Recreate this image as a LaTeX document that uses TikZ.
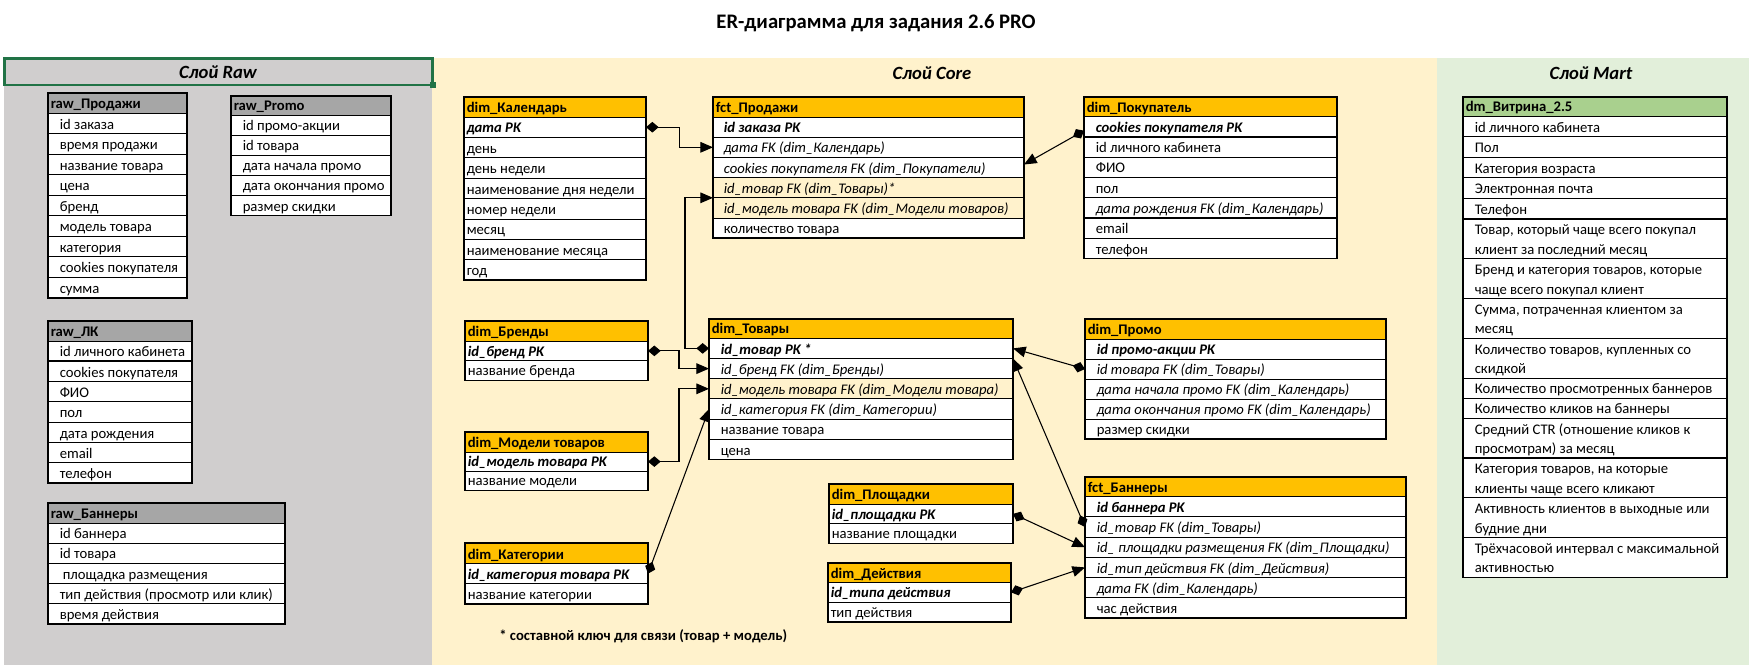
\documentclass[tikz,border=0pt]{standalone}
\usepackage{fontspec}
\setmainfont{Carlito}
\usetikzlibrary{arrows.meta,calc}
\definecolor{rawbg}{HTML}{D0CECE}
\definecolor{rawhead}{HTML}{A6A6A6}
\definecolor{corebg}{HTML}{FFF2CC}
\definecolor{corehead}{HTML}{FFC000}
\definecolor{martbg}{HTML}{E2EFDA}
\definecolor{marthead}{HTML}{A9D08E}
\definecolor{xlgreen}{HTML}{217346}
\tikzset{
  cellbox/.style={draw=black, line width=0.75pt, anchor=north west, inner sep=0pt, outer sep=0pt},
  celltext/.style={anchor=base west, inner sep=0pt},
  rel/.style={draw=black, line width=0.8pt, {Diamond[length=9.5pt,width=8pt]}-{Triangle[length=9.5pt,width=8pt]}},
  laytitle/.style={font=\fontsize{14}{17}\selectfont\bfseries\itshape, inner sep=0pt},
  sepline/.style={line width=1.3pt},
  frame/.style={line width=1.3pt}
}
\newcommand\TblStart[7]{%
  \xdef\Tid{#1}\xdef\Tx{#2}\xdef\Txx{#3}\xdef\Ttop{#4}%
  \pgfmathsetmacro\Tw{(#3-#2)*0.75}\global\let\Tw\Tw
  \pgfmathsetmacro\Th{#5*0.75}%
  \node[cellbox,fill=#6,minimum width=\Tw pt,minimum height=\Th pt] (#1-h) at (#2,#4) {};
  \pgfmathsetmacro\Tb{#4+#5-4.5}%
  \node[celltext] (#1-ht) at ({#2+2.5},\Tb) {\bfseries #7};
  \pgfmathsetmacro\Tcur{#4+#5}\global\let\Tcur\Tcur
  \gdef\Trow{0}%
}
\newcommand\TblRow[5]{%
  \pgfmathtruncatemacro\Tk{\Trow+1}\global\let\Trow\Tk
  \pgfmathsetmacro\Th{#1*0.75}%
  \node[cellbox,fill=#2,minimum width=\Tw pt,minimum height=\Th pt] (\Tid-\Trow) at (\Tx,\Tcur) {};
  \pgfmathsetmacro\Tb{\Tcur+#1-4.5}%
  \node[celltext] (\Tid-\Trow-t) at ({\Tx+#3},\Tb) {#4#5};
  \pgfmathsetmacro\Tcur{\Tcur+#1}\global\let\Tcur\Tcur
}
\newcommand\TblRowTwo[5]{%
  \pgfmathtruncatemacro\Tk{\Trow+1}\global\let\Trow\Tk
  \pgfmathsetmacro\Th{#1*0.75}%
  \node[cellbox,fill=#2,minimum width=\Tw pt,minimum height=\Th pt] (\Tid-\Trow) at (\Tx,\Tcur) {};
  \pgfmathsetmacro\Tb{\Tcur+#1-4.5}%
  \pgfmathsetmacro\Ta{\Tb-19.5}%
  \node[celltext] (\Tid-\Trow-t) at ({\Tx+#3},\Ta) {#4};
  \node[celltext] (\Tid-\Trow-u) at ({\Tx+#3},\Tb) {#5};
  \pgfmathsetmacro\Tcur{\Tcur+#1}\global\let\Tcur\Tcur
}
\newcommand\TblEnd{\draw[frame] (\Tx,\Ttop) rectangle (\Txx,\Tcur);}
\begin{document}
\begin{tikzpicture}[x=0.75pt,y=-0.75pt,font=\fontsize{11}{13.5}\selectfont]
\useasboundingbox (0,0) rectangle (1753,669);
\fill[white] (0,0) rectangle (1753,669);
% layer backgrounds
\fill[rawbg] (4,58) rectangle (432,665);
\fill[corebg] (432,58) rectangle (1437,665);
\fill[martbg] (1437,58) rectangle (1749,665);
\draw[xlgreen, line width=1.6pt] (4.5,58.5) rectangle (432.5,85);
\fill[xlgreen] (429.5,81.5) rectangle (436,88);
% titles
\node[inner sep=0pt] (title) at (876,23) {\fontsize{15.5}{18}\selectfont\bfseries ER-диаграмма для задания 2.6 PRO};
\node[laytitle] (rawt) at (218,72) {Слой Raw};
\node[laytitle] (coret) at (932,73) {Слой Core};
\node[laytitle] (martt) at (1591,73) {Слой Mart};

% ---------- Raw ----------
\TblStart{rp}{48}{187}{93}{20}{rawhead}{raw\_Продажи}
\TblRow{20.55}{white}{11.5}{}{id заказа}
\TblRow{20.55}{white}{11.5}{}{время продажи}
\TblRow{20.55}{white}{11.5}{}{название товара}
\TblRow{20.55}{white}{11.5}{}{цена}
\TblRow{20.55}{white}{11.5}{}{бренд}
\TblRow{20.55}{white}{11.5}{}{модель товара}
\TblRow{20.55}{white}{11.5}{}{категория}
\TblRow{20.55}{white}{11.5}{}{cookies покупателя}
\TblRow{20.55}{white}{11.5}{}{сумма}
\TblEnd

\TblStart{rpr}{231}{391}{96}{19}{rawhead}{raw\_Promo}
\TblRow{20.1}{white}{11.5}{}{id промо-акции}
\TblRow{20.1}{white}{11.5}{}{id товара}
\TblRow{20.1}{white}{11.5}{}{дата начала промо}
\TblRow{20.1}{white}{11.5}{}{дата окончания промо}
\TblRow{20.1}{white}{11.5}{}{размер скидки}
\TblEnd

\TblStart{rl}{48}{192}{321}{20}{rawhead}{raw\_ЛК}
\TblRow{20.3}{white}{11.5}{}{id личного кабинета}
\TblRow{20.3}{white}{11.5}{}{cookies покупателя}
\TblRow{20.3}{white}{11.5}{}{ФИО}
\TblRow{20.3}{white}{11.5}{}{пол}
\TblRow{20.3}{white}{11.5}{}{дата рождения}
\TblRow{20.3}{white}{11.5}{}{email}
\TblRow{20.3}{white}{11.5}{}{телефон}
\TblEnd
\draw[sepline] (rl-1.south west) -- (rl-1.south east);
\draw[sepline] (rl-5.south west) -- (rl-5.south east);

\TblStart{rb}{48}{285}{503}{20}{rawhead}{raw\_Баннеры}
\TblRow{20.2}{white}{11.5}{}{id баннера}
\TblRow{20.2}{white}{11.5}{}{id товара}
\TblRow{20.2}{white}{14.5}{}{площадка размещения}
\TblRow{20.2}{white}{11.5}{}{тип действия (просмотр или клик)}
\TblRow{20.2}{white}{11.5}{}{время действия}
\TblEnd

% ---------- Core ----------
\TblStart{cal}{464}{646}{97}{20}{corehead}{dim\_Календарь}
\TblRow{20.4}{white}{2.5}{\bfseries\itshape}{дата PK}
\TblRow{20.4}{white}{2.5}{}{день}
\TblRow{20.4}{white}{2.5}{}{день недели}
\TblRow{20.4}{white}{2.5}{}{наименование дня недели}
\TblRow{20.4}{white}{2.5}{}{номер недели}
\TblRow{20.4}{white}{2.5}{}{месяц}
\TblRow{20.4}{white}{2.5}{}{наименование месяца}
\TblRow{20.4}{white}{2.5}{}{год}
\TblEnd

\TblStart{fct}{713}{1024}{97}{20}{corehead}{fct\_Продажи}
\TblRow{20.2}{white}{10.5}{\bfseries\itshape}{id заказа PK}
\TblRow{20.2}{white}{10.5}{\itshape}{дата FK (dim\_Календарь)}
\TblRow{20.2}{white}{10.5}{\itshape}{cookies покупателя FK (dim\_Покупатели)}
\TblRow{20.2}{corebg}{10.5}{\itshape}{id\_товар FK (dim\_Товары)*}
\TblRow{20.2}{corebg}{10.5}{\itshape}{id\_модель товара FK (dim\_Модели товаров)}
\TblRow{20.2}{white}{10.5}{}{количество товара}
\TblEnd

\TblStart{pok}{1084}{1337}{97}{19.5}{corehead}{dim\_Покупатель}
\TblRow{20.3}{white}{11.5}{\bfseries\itshape}{cookies покупателя PK}
\TblRow{20.3}{white}{11.5}{}{id личного кабинета}
\TblRow{20.3}{white}{11.5}{}{ФИО}
\TblRow{20.3}{white}{11.5}{}{пол}
\TblRow{20.3}{white}{11.5}{\itshape}{дата рождения FK (dim\_Календарь)}
\TblRow{20.3}{white}{11.5}{}{email}
\TblRow{20.3}{white}{11.5}{}{телефон}
\TblEnd
\draw[sepline] (pok-1.south west) -- (pok-1.south east);
\draw[sepline] (pok-5.south west) -- (pok-5.south east);

\TblStart{br}{465}{648}{321}{20}{corehead}{dim\_Бренды}
\TblRow{19.7}{white}{2.5}{\bfseries\itshape}{id\_бренд PK}
\TblRow{19.7}{white}{2.5}{}{название бренда}
\TblEnd

\TblStart{mod}{465}{648}{432}{20}{corehead}{dim\_Модели товаров}
\TblRow{19.2}{white}{2.5}{\bfseries\itshape}{id\_модель товара PK}
\TblRow{19.2}{white}{2.5}{}{название модели}
\TblEnd

\TblStart{cat}{465}{648}{543}{20.5}{corehead}{dim\_Категории}
\TblRow{20.3}{white}{2.5}{\bfseries\itshape}{id\_категория товара PK}
\TblRow{20.3}{white}{2.5}{}{название категории}
\TblEnd

\TblStart{tov}{709}{1013}{319}{19.3}{corehead}{dim\_Товары}
\TblRow{20.2}{white}{11.5}{\bfseries\itshape}{id\_товар PK *}
\TblRow{20.2}{white}{11.5}{\itshape}{id\_бренд FK (dim\_Бренды)}
\TblRow{20.2}{corebg}{11.5}{\itshape}{id\_модель товара FK (dim\_Модели товара)}
\TblRow{20.2}{white}{11.5}{\itshape}{id\_категория FK (dim\_Категории)}
\TblRow{20.2}{white}{11.5}{}{название товара}
\TblRow{20.2}{white}{11.5}{}{цена}
\TblEnd

\TblStart{plo}{829}{1013}{484}{20}{corehead}{dim\_Площадки}
\TblRow{19.7}{white}{2.5}{\bfseries\itshape}{id\_площадки PK}
\TblRow{19.7}{white}{2.5}{}{название площадки}
\TblEnd

\TblStart{dei}{828}{1011}{563}{19.5}{corehead}{dim\_Действия}
\TblRow{19.7}{white}{2.5}{\bfseries\itshape}{id\_типа действия}
\TblRow{19.7}{white}{2.5}{}{тип действия}
\TblEnd

\TblStart{pro}{1085}{1386}{319}{20}{corehead}{dim\_Промо}
\TblRow{20}{white}{11.5}{\bfseries\itshape}{id промо-акции PK}
\TblRow{20}{white}{11.5}{\itshape}{id товара FK (dim\_Товары)}
\TblRow{20}{white}{11.5}{\itshape}{дата начала промо FK (dim\_Календарь)}
\TblRow{20}{white}{11.5}{\itshape}{дата окончания промо FK (dim\_Календарь)}
\TblRow{20}{white}{11.5}{}{размер скидки}
\TblEnd

\TblStart{ban}{1085}{1406}{477}{19.7}{corehead}{fct\_Баннеры}
\TblRow{20.2}{white}{11.5}{\bfseries\itshape}{id баннера PK}
\TblRow{20.2}{white}{11.5}{\itshape}{id\_товар FK (dim\_Товары)}
\TblRow{20.2}{white}{11.5}{\itshape}{id\_ площадки размещения FK (dim\_Площадки)}
\TblRow{20.2}{white}{11.5}{\itshape}{id\_тип действия FK (dim\_Действия)}
\TblRow{20.2}{white}{11.5}{\itshape}{дата FK (dim\_Календарь)}
\TblRow{20.2}{white}{11.5}{}{час действия}
\TblEnd

\node[celltext] (note) at (499,640.5) {\bfseries * составной ключ для связи (товар + модель)};

% ---------- Mart ----------
\TblStart{vit}{1463}{1727}{97}{19}{marthead}{dm\_Витрина\_2.5}
\TblRow{20.6}{white}{11.5}{}{id личного кабинета}
\TblRow{20.6}{white}{11.5}{}{Пол}
\TblRow{20.6}{white}{11.5}{}{Категория возраста}
\TblRow{20.6}{white}{11.5}{}{Электронная почта}
\TblRow{20.6}{white}{11.5}{}{Телефон}
\TblRowTwo{39.8}{white}{11.5}{Товар, который чаще всего покупал}{клиент за последний месяц}
\TblRowTwo{39.8}{white}{11.5}{Бренд и категория товаров, которые}{чаще всего покупал клиент}
\TblRowTwo{39.8}{white}{11.5}{Сумма, потраченная клиентом за}{месяц}
\TblRowTwo{39.8}{white}{11.5}{Количество товаров, купленных со}{скидкой}
\TblRow{20}{white}{11.5}{}{Количество просмотренных баннеров}
\TblRow{20}{white}{11.5}{}{Количество кликов на баннеры}
\TblRowTwo{39.8}{white}{11.5}{Средний CTR (отношение кликов к}{просмотрам) за месяц}
\TblRowTwo{39.8}{white}{11.5}{Категория товаров, на которые}{клиенты чаще всего кликают}
\TblRowTwo{39.8}{white}{11.5}{Активность клиентов в выходные или}{будние дни}
\TblRowTwo{39.8}{white}{11.5}{Трёхчасовой интервал с максимальной}{активностью}
\TblEnd
\draw[sepline] (vit-5.south west) -- (vit-5.south east);
\draw[sepline] (vit-12.south west) -- (vit-12.south east);

% ---------- Relations ----------
\draw[rel] (cal-1.east) -- ++(33.5,0) |- (fct-2.west);
\draw[rel] (tov-1.west) -- ++(-24,0) |- (fct-4.south west);
\draw[rel] ($(pok-1.west)+(0,4)$) -- ($(fct-3.east)+(0,-3)$);
\draw[rel] (br-1.east) -- ++(31,0) |- (tov-2.west);
\draw[rel] (mod-1.east) -- ++(31,0) |- (tov-3.west);
\draw[rel] (cat-1.east) -- (tov-4.west);
\draw[rel] (pro-2.west) -- (tov-1.east);
\draw[rel] (ban-2.west) -- (tov-1.south east);
\draw[rel] (plo-1.east) -- (ban-3.west);
\draw[rel] (dei-1.east) -- (ban-4.west);
\end{tikzpicture}
\end{document}
